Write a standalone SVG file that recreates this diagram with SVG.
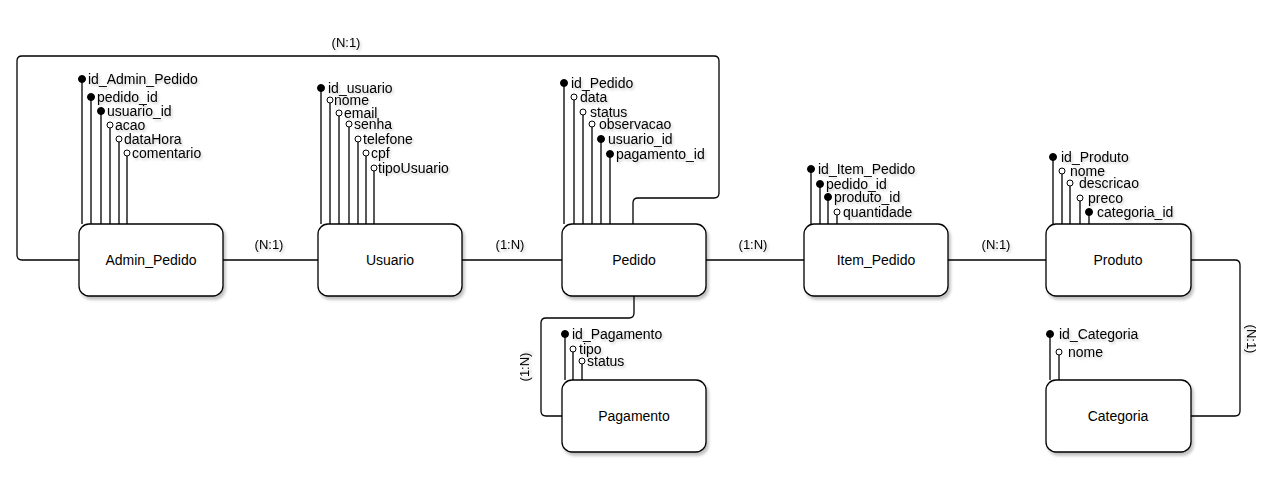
<svg xmlns="http://www.w3.org/2000/svg" width="1283" height="483" viewBox="0 0 1283 483">
<defs>
<filter id="sh" x="-10%" y="-10%" width="130%" height="140%">
<feDropShadow dx="2" dy="3" stdDeviation="1.5" flood-color="#000" flood-opacity="0.25"/>
</filter>
<filter id="tsh" x="-10%" y="-30%" width="130%" height="170%">
<feDropShadow dx="1.5" dy="2" stdDeviation="1" flood-color="#000" flood-opacity="0.2"/>
</filter>
</defs>
<style>
.box{fill:#fff;stroke:#000;stroke-width:1.3;filter:url(#sh)}
.lbl{font-family:"Liberation Sans",Arial,sans-serif;font-size:14px;fill:#000;text-anchor:middle}
.at{font-family:"Liberation Sans",Arial,sans-serif;font-size:14px;fill:#000;filter:url(#tsh)}
.rel{font-family:"Liberation Sans",Arial,sans-serif;font-size:13px;fill:#000;text-anchor:middle;filter:url(#tsh)}
.ln{fill:none;stroke:#000;stroke-width:1.3}
.pk{fill:#000;stroke:#000;stroke-width:1}
.fk{fill:#fff;stroke:#000;stroke-width:1}
.relbg{fill:#fff;filter:url(#sh)}
</style>

<g id="connectors">
<path class="ln" d="M79,260 H22 Q17,260 17,255 V61 Q17,56 22,56 H714 Q719,56 719,61 V193 Q719,198 714,198 H638 Q633,198 633,203 V224"/>
<path class="ln" d="M223,260 H318"/>
<path class="ln" d="M462,260 H562"/>
<path class="ln" d="M706,260 H804"/>
<path class="ln" d="M948,260 H1046"/>
<path class="ln" d="M634,296 V313 Q634,318 629,318 H546 Q541,318 541,323 V411 Q541,416 546,416 H562"/>
<path class="ln" d="M1191,260 H1235 Q1240,260 1240,265 V411 Q1240,416 1235,416 H1191"/>
<text class="rel" x="346" y="47">(N:1)</text>
<text class="rel" x="269" y="249">(N:1)</text>
<text class="rel" x="510" y="249">(1:N)</text>
<text class="rel" x="753" y="249">(1:N)</text>
<text class="rel" x="996" y="249">(N:1)</text>
<text class="rel" transform="translate(529,367) rotate(-90)">(1:N)</text>
<text class="rel" transform="translate(1247,339) rotate(90)">(N:1)</text>
</g>

<g id="Admin_Pedido">
<path class="ln" d="M82,79V224 M91,97V224 M101,111V224 M110,128V224 M119,142V224 M127,156V224"/>
<circle class="pk" cx="82" cy="79" r="3.5"/>
<circle class="pk" cx="91" cy="97" r="3.5"/>
<circle class="pk" cx="101" cy="111" r="3.5"/>
<circle class="fk" cx="110" cy="125" r="3"/>
<circle class="fk" cx="119" cy="139" r="3"/>
<circle class="fk" cx="127" cy="153" r="3"/>
<text class="at" x="88" y="84">id_Admin_Pedido</text>
<text class="at" x="97" y="102">pedido_id</text>
<text class="at" x="107" y="116">usuario_id</text>
<text class="at" x="115" y="130">acao</text>
<text class="at" x="124" y="144">dataHora</text>
<text class="at" x="132" y="158">comentario</text>
<rect class="box" x="79" y="224" width="144" height="72" rx="10"/>
<text class="lbl" x="151" y="265">Admin_Pedido</text>
</g>

<g id="Usuario">
<path class="ln" d="M321,88V224 M330,103V224 M339,116V224 M349,127V224 M358,142V224 M366,156V224 M374,171V224"/>
<circle class="pk" cx="321" cy="88" r="3.5"/>
<circle class="fk" cx="330" cy="100" r="3"/>
<circle class="fk" cx="339" cy="113" r="3"/>
<circle class="fk" cx="349" cy="124" r="3"/>
<circle class="fk" cx="358" cy="139" r="3"/>
<circle class="fk" cx="366" cy="153" r="3"/>
<circle class="fk" cx="374" cy="168" r="3"/>
<text class="at" x="328" y="93">id_usuario</text>
<text class="at" x="334" y="105">nome</text>
<text class="at" x="344" y="118">email</text>
<text class="at" x="354" y="129">senha</text>
<text class="at" x="363" y="144">telefone</text>
<text class="at" x="371" y="158">cpf</text>
<text class="at" x="378" y="173">tipoUsuario</text>
<rect class="box" x="318" y="224" width="144" height="72" rx="10"/>
<text class="lbl" x="390" y="265">Usuario</text>
</g>

<g id="Pedido">
<path class="ln" d="M564,83V224 M574,100V224 M583,115V224 M592,127V224 M601,139V224 M610,154V224"/>
<circle class="pk" cx="564" cy="83" r="3.5"/>
<circle class="fk" cx="574" cy="97" r="3"/>
<circle class="fk" cx="583" cy="112" r="3"/>
<circle class="fk" cx="592" cy="124" r="3"/>
<circle class="pk" cx="601" cy="139" r="3.5"/>
<circle class="pk" cx="610" cy="154" r="3.5"/>
<text class="at" x="571" y="88">id_Pedido</text>
<text class="at" x="580" y="102">data</text>
<text class="at" x="590" y="117">status</text>
<text class="at" x="599" y="129">observacao</text>
<text class="at" x="608" y="144">usuario_id</text>
<text class="at" x="616" y="159">pagamento_id</text>
<rect class="box" x="562" y="224" width="144" height="72" rx="10"/>
<text class="lbl" x="634" y="265">Pedido</text>
</g>

<g id="Item_Pedido">
<path class="ln" d="M811,169V224 M820,184V224 M828,197V224 M837,215V224"/>
<circle class="pk" cx="811" cy="169" r="3.5"/>
<circle class="pk" cx="820" cy="184" r="3.5"/>
<circle class="pk" cx="828" cy="197" r="3.5"/>
<circle class="fk" cx="837" cy="212" r="3"/>
<text class="at" x="818" y="174">id_Item_Pedido</text>
<text class="at" x="826" y="189">pedido_id</text>
<text class="at" x="834" y="202">produto_id</text>
<text class="at" x="843" y="217">quantidade</text>
<rect class="box" x="804" y="224" width="144" height="72" rx="10"/>
<text class="lbl" x="876" y="265">Item_Pedido</text>
</g>

<g id="Produto">
<path class="ln" d="M1053,157V224 M1062,174V224 M1070,186V224 M1080,201V224 M1089,212V224"/>
<circle class="pk" cx="1053" cy="157" r="3.5"/>
<circle class="fk" cx="1062" cy="171" r="3"/>
<circle class="fk" cx="1070" cy="183" r="3"/>
<circle class="fk" cx="1080" cy="198" r="3"/>
<circle class="pk" cx="1089" cy="212" r="3.5"/>
<text class="at" x="1061" y="162">id_Produto</text>
<text class="at" x="1070" y="176">nome</text>
<text class="at" x="1079" y="188">descricao</text>
<text class="at" x="1088" y="203">preco</text>
<text class="at" x="1097" y="217">categoria_id</text>
<rect class="box" x="1046" y="224" width="145" height="72" rx="10"/>
<text class="lbl" x="1118" y="265">Produto</text>
</g>

<g id="Pagamento">
<path class="ln" d="M565,334V380 M573,352V380 M582,364V380"/>
<circle class="pk" cx="565" cy="334" r="3.5"/>
<circle class="fk" cx="573" cy="349" r="3"/>
<circle class="fk" cx="582" cy="361" r="3"/>
<text class="at" x="572" y="339">id_Pagamento</text>
<text class="at" x="579" y="354">tipo</text>
<text class="at" x="587" y="366">status</text>
<rect class="box" x="562" y="380" width="144" height="72" rx="10"/>
<text class="lbl" x="634" y="421">Pagamento</text>
</g>

<g id="Categoria">
<path class="ln" d="M1050,334V380 M1059,355V380"/>
<circle class="pk" cx="1050" cy="334" r="3.5"/>
<circle class="fk" cx="1059" cy="352" r="3"/>
<text class="at" x="1059" y="339">id_Categoria</text>
<text class="at" x="1068" y="357">nome</text>
<rect class="box" x="1046" y="380" width="145" height="72" rx="10"/>
<text class="lbl" x="1118" y="421">Categoria</text>
</g>
</svg>
